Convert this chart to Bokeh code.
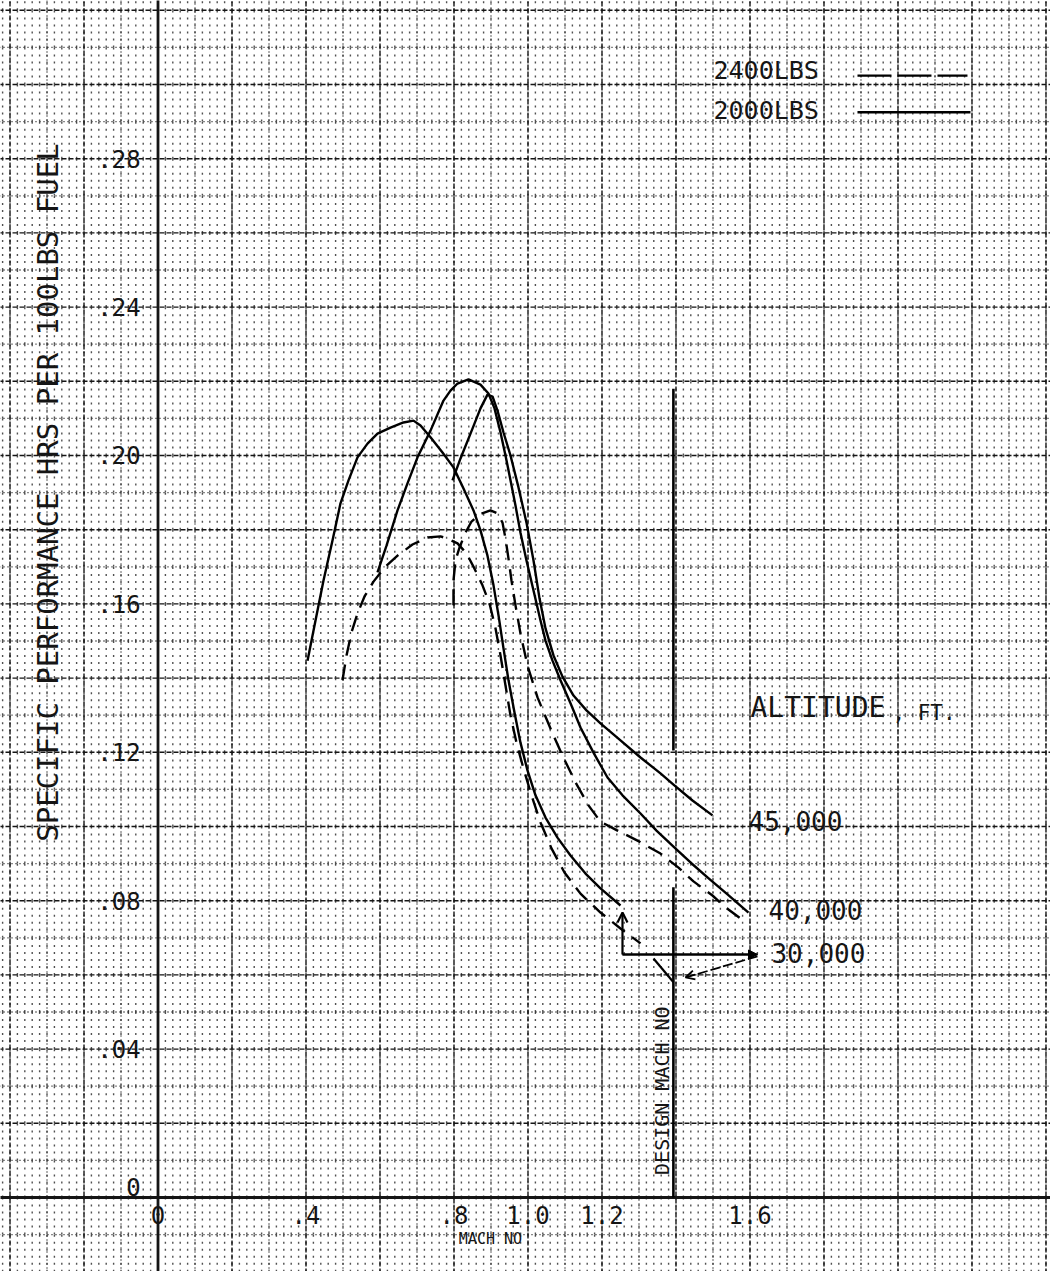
import numpy as np
from bokeh.plotting import figure
from bokeh.models import Range1d, Arrow, OpenHead, NormalHead
from bokeh.embed import file_html
from bokeh.resources import INLINE
from bokeh.core.properties import value

# ---------------- data (Mach number vs specific performance) ----------------
mach_30k_2000 = [0.4041, 0.4257, 0.4473, 0.4716, 0.4932, 0.5149, 0.5392, 0.5662, 0.5932, 0.6284,
                 0.6635, 0.6905, 0.7095, 0.7365, 0.7689, 0.7986, 0.8257, 0.8527, 0.8716, 0.8905,
                 0.9068, 0.9203, 0.9338, 0.9473, 0.9635, 0.9797, 0.9986, 1.0203, 1.0473, 1.0797,
                 1.1149, 1.1554, 1.1959, 1.2500]
sp_30k_2000 = [0.1447, 0.1555, 0.1663, 0.1771, 0.1871, 0.1933, 0.1995, 0.2032, 0.2059, 0.2075,
               0.2089, 0.2094, 0.2081, 0.2049, 0.2008, 0.1968, 0.1911, 0.1852, 0.1798, 0.1730,
               0.1650, 0.1569, 0.1480, 0.1394, 0.1307, 0.1226, 0.1151, 0.1084, 0.1024, 0.0970,
               0.0922, 0.0873, 0.0833, 0.0787]

mach_30k_2400 = [0.4986, 0.5095, 0.5230, 0.5392, 0.5581, 0.5824, 0.6122, 0.6473, 0.6878, 0.7284,
                 0.7635, 0.7824, 0.8095, 0.8338, 0.8554, 0.8770, 0.8959, 0.9122, 0.9257, 0.9392,
                 0.9527, 0.9689, 0.9878, 1.0095, 1.0338, 1.0635, 1.0986, 1.1419, 1.1959, 1.2500,
                 1.3041]
sp_30k_2400 = [0.1394, 0.1461, 0.1523, 0.1574, 0.1620, 0.1660, 0.1698, 0.1730, 0.1760, 0.1779,
               0.1782, 0.1776, 0.1763, 0.1736, 0.1695, 0.1650, 0.1601, 0.1534, 0.1461, 0.1380,
               0.1299, 0.1226, 0.1156, 0.1084, 0.1011, 0.0941, 0.0876, 0.0819, 0.0768, 0.0725,
               0.0685]

mach_40k_2000 = [0.5932, 0.6176, 0.6473, 0.6743, 0.7014, 0.7365, 0.7716, 0.7905, 0.8095, 0.8392,
                 0.8716, 0.8932, 0.9095, 0.9257, 0.9392, 0.9527, 0.9662, 0.9797, 0.9959, 1.0149,
                 1.0338, 1.0473, 1.0662, 1.0878, 1.1149, 1.1419, 1.1770, 1.2149, 1.2554, 1.3041,
                 1.3473, 1.3932, 1.4392, 1.4851, 1.5392, 1.5959]
sp_40k_2000 = [0.1685, 0.1757, 0.1852, 0.1925, 0.1995, 0.2067, 0.2148, 0.2175, 0.2194, 0.2205,
               0.2191, 0.2167, 0.2127, 0.2062, 0.2000, 0.1933, 0.1865, 0.1792, 0.1717, 0.1636,
               0.1555, 0.1501, 0.1447, 0.1394, 0.1332, 0.1267, 0.1199, 0.1132, 0.1084, 0.1035,
               0.0989, 0.0946, 0.0903, 0.0863, 0.0817, 0.0768]

mach_40k_2400 = [0.7986, 0.7986, 0.8041, 0.8149, 0.8311, 0.8473, 0.8689, 0.8986, 0.9176, 0.9311,
                 0.9392, 0.9473, 0.9554, 0.9662, 0.9797, 0.9986, 1.0257, 1.0608, 1.0932, 1.1284,
                 1.1635, 1.1959, 1.2419, 1.2959, 1.3581, 1.4068, 1.4473, 1.4986, 1.5338, 1.5743]
sp_40k_2400 = [0.1596, 0.1663, 0.1717, 0.1752, 0.1792, 0.1822, 0.1841, 0.1852, 0.1844, 0.1819,
               0.1776, 0.1722, 0.1663, 0.1596, 0.1520, 0.1434, 0.1348, 0.1264, 0.1191, 0.1119,
               0.1057, 0.1013, 0.0989, 0.0962, 0.0927, 0.0889, 0.0852, 0.0814, 0.0782, 0.0752]

mach_45k_2000 = [0.7959, 0.8176, 0.8446, 0.8716, 0.8905, 0.9041, 0.9176, 0.9338, 0.9527, 0.9743,
                 0.9959, 1.0149, 1.0311, 1.0473, 1.0689, 1.0932, 1.1230, 1.1581, 1.1959, 1.2500,
                 1.3041, 1.3581, 1.3932, 1.4446, 1.4986]
sp_45k_2000 = [0.1933, 0.1992, 0.2059, 0.2127, 0.2164, 0.2159, 0.2121, 0.2062, 0.2000, 0.1914,
               0.1819, 0.1717, 0.1615, 0.1534, 0.1461, 0.1404, 0.1353, 0.1313, 0.1278, 0.1232,
               0.1186, 0.1143, 0.1113, 0.1070, 0.1030]

design_mach = 1.393

x_tick_values = [0.0, 0.4, 0.8, 1.0, 1.2, 1.6]
x_tick_labels = ["0", ".4", ".8", "1.0", "1.2", "1.6"]
y_tick_values = [0.0, 0.04, 0.08, 0.12, 0.16, 0.20, 0.24, 0.28]
y_tick_labels = ["0", ".04", ".08", ".12", ".16", ".20", ".24", ".28"]

legend_labels = ["2400LBS", "2000LBS"]
altitude_labels = ["45,000", "40,000", "30,000"]

# annotation arrows near the 30,000 label (Mach, SP)
arrow_h_mach = [1.2554, 1.6203]
arrow_h_sp = [0.0655, 0.0655]
arrow_v_mach = [1.2554, 1.2554]
arrow_v_sp = [0.0655, 0.0768]
slant_mach = [1.3392, 1.3932]
slant_sp = [0.0644, 0.0580]
pointer_mach = [1.6203, 1.4257]
pointer_sp = [0.0650, 0.0593]

# ---------------- figure ----------------
X0, X1 = -0.4257, 2.4122
Y0, Y1 = -0.01995, 0.32264
p = figure(width=1050, height=1271, x_range=Range1d(X0, X1), y_range=Range1d(Y0, Y1),
           output_backend="svg", toolbar_location=None, min_border=0,
           x_axis_location=None, y_axis_location=None)
p.title.visible = False
p.grid.visible = False
p.outline_line_color = None
p.background_fill_color = "white"
p.border_fill_color = "white"

INK = "#151515"
FONT = value("DejaVu Sans Mono")

# fine dot lattice: vertical dotted segments every 0.02 Mach, one per 0.01 SP band
dx, dy = [], []
xs_fine = np.round(np.arange(-0.42, 2.42, 0.02), 4)
bands = np.round(np.arange(-0.02, 0.33, 0.01), 4)
for xv in xs_fine:
    for b in bands:
        dx.append([xv, xv])
        dy.append([b, b + 0.01])
p.multi_line(dx, dy, line_color=INK, line_width=1.4, line_dash="2 5", line_alpha=0.75)

# minor lines (0.1 Mach, 0.01 SP)
xs_minor = [v for v in np.round(np.arange(-0.4, 2.45, 0.1), 3) if abs(round(v / 0.2) * 0.2 - v) > 1e-6]
ys_minor = [v for v in np.round(np.arange(-0.02, 0.33, 0.01), 4) if abs(round(v / 0.02) * 0.02 - v) > 1e-6]
p.multi_line([[v, v] for v in xs_minor], [[Y0 - 0.01, Y1 + 0.01]] * len(xs_minor),
             line_color=INK, line_width=1.3, line_dash="1 3")
p.multi_line([[X0 - 0.1, X1 + 0.1]] * len(ys_minor), [[v, v] for v in ys_minor],
             line_color=INK, line_width=1.3, line_dash="1 3")

# major lines (0.2 Mach, 0.02 SP)
xs_major = [v for v in np.round(np.arange(-0.4, 2.45, 0.2), 3) if abs(v) > 1e-6]
ys_major = [v for v in np.round(np.arange(-0.02, 0.33, 0.02), 4) if abs(v) > 1e-6]
p.multi_line([[v, v] for v in xs_major], [[Y0 - 0.01, Y1 + 0.01]] * len(xs_major),
             line_color=INK, line_width=1.4, line_dash="5 2")
p.multi_line([[X0 - 0.1, X1 + 0.1]] * len(ys_major), [[v, v] for v in ys_major],
             line_color=INK, line_width=1.4, line_dash="5 2")

# axes
p.line([0, 0], [Y0 - 0.01, Y1 + 0.01], line_color=INK, line_width=2.8)
p.line([X0 - 0.1, X1 + 0.1], [0, 0], line_color=INK, line_width=2.8)

# curves
CW = 2.4
p.line(mach_30k_2000, sp_30k_2000, line_color="black", line_width=CW, line_join="round")
p.line(mach_40k_2000, sp_40k_2000, line_color="black", line_width=CW, line_join="round")
p.line(mach_45k_2000, sp_45k_2000, line_color="black", line_width=CW, line_join="round")
p.line(mach_30k_2400, sp_30k_2400, line_color="black", line_width=CW, line_dash="16 9", line_join="round")
p.line(mach_40k_2400, sp_40k_2400, line_color="black", line_width=CW, line_dash="16 9", line_join="round")

# design Mach number line
p.line([design_mach, design_mach], [0.218, 0.1205], line_color="black", line_width=2.6)
p.line([design_mach, design_mach], [0.0836, 0.0], line_color="black", line_width=2.6)
p.text(x=[design_mach - 0.030], y=[0.0288], text=["DESIGN MACH NO"], angle=np.pi / 2,
       text_font=FONT, text_font_size="20px", text_align="center", text_baseline="middle",
       text_color=INK)

# 30,000 annotation arrows
p.line(arrow_h_mach, arrow_h_sp, line_color="black", line_width=2.2)
p.line(slant_mach, slant_sp, line_color="black", line_width=2.2)
p.add_layout(Arrow(end=OpenHead(size=10, line_width=2.2, line_color="black"),
                   x_start=arrow_v_mach[0], y_start=arrow_v_sp[0],
                   x_end=arrow_v_mach[1], y_end=arrow_v_sp[1], line_width=2.2, line_color="black"))
p.add_layout(Arrow(end=NormalHead(size=9, fill_color="black", line_color="black"),
                   x_start=arrow_h_mach[0], y_start=arrow_h_sp[0],
                   x_end=arrow_h_mach[1], y_end=arrow_h_sp[1], line_width=2.2, line_color="black"))
p.add_layout(Arrow(end=OpenHead(size=9, line_width=1.8, line_color="black"),
                   x_start=pointer_mach[0], y_start=pointer_sp[0],
                   x_end=pointer_mach[1], y_end=pointer_sp[1], line_width=1.8, line_color="black",
                   line_dash="10 3"))

# tick labels
p.text(x=x_tick_values, y=[-0.0046] * len(x_tick_values), text=x_tick_labels,
       text_font=FONT, text_font_size="24px", text_align="center", text_baseline="middle",
       text_color=INK)
y_lab_pos = [v + (0.0027 if v == 0 else 0.0) for v in y_tick_values]
p.text(x=[-0.047] * len(y_tick_values), y=y_lab_pos, text=y_tick_labels,
       text_font=FONT, text_font_size="24px", text_align="right", text_baseline="middle",
       text_color=INK)

# axis titles
p.text(x=[-0.2986], y=[0.19], text=["SPECIFIC PERFORMANCE HRS PER 100LBS FUEL"], angle=np.pi / 2,
       text_font=FONT, text_font_size="29px", text_align="center", text_baseline="middle",
       text_color=INK)
p.text(x=[0.8986], y=[-0.0111], text=["MACH NO"], text_font=FONT, text_font_size="15px",
       text_align="center", text_baseline="middle", text_color=INK)

# legend
p.text(x=[1.5014, 1.5014], y=[0.3038, 0.2930], text=legend_labels, text_font=FONT,
       text_font_size="25px", text_align="left", text_baseline="middle", text_color=INK)
p.line([1.8905, 2.1878], [0.3024, 0.3024], line_color="black", line_width=2.4, line_dash="34 6")
p.line([1.8905, 2.1959], [0.2925, 0.2925], line_color="black", line_width=2.4)

# altitude labels
p.text(x=[1.6014], y=[0.1321], text=["ALTITUDE"], text_font=FONT, text_font_size="28px",
       text_align="left", text_baseline="middle", text_color=INK)
p.text(x=[1.985], y=[0.1305], text=[", FT."], text_font=FONT, text_font_size="21px",
       text_align="left", text_baseline="middle", text_color=INK)
p.text(x=[1.5959, 1.650, 1.658], y=[0.1016, 0.0774, 0.0660], text=altitude_labels, text_font=FONT,
       text_font_size="26px", text_align="left", text_baseline="middle", text_color=INK)

open("out.html", "w").write(file_html(p, INLINE))
